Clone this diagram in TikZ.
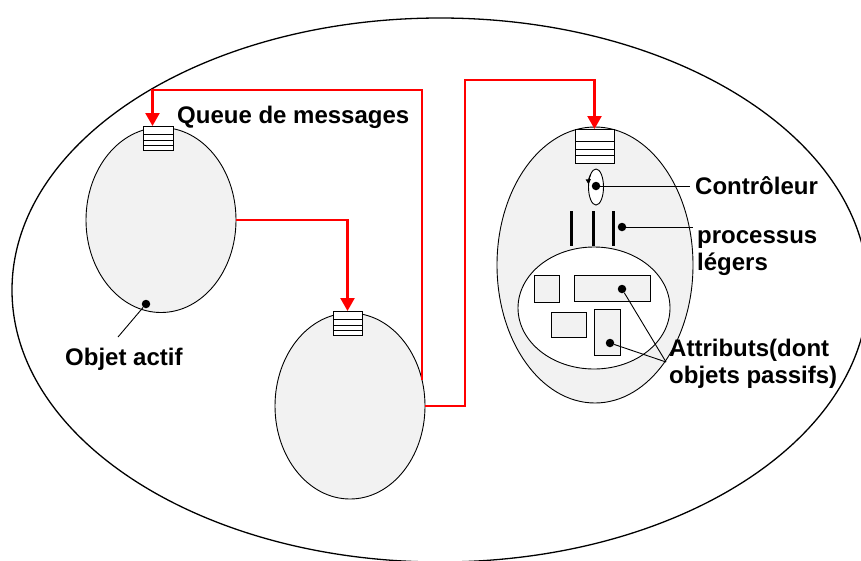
\documentclass[tikz,border=0pt]{standalone}
\usepackage{fontspec}
\setmainfont{Liberation Sans}
\usetikzlibrary{shapes.geometric,arrows.meta,calc}
\definecolor{lightfill}{HTML}{F2F2F2}
\definecolor{arrowred}{HTML}{FF0000}
\begin{document}
\begin{tikzpicture}[x=1pt,y=-1pt,
  blob/.style={ellipse, draw=black, line width=0.9pt, fill=lightfill, inner sep=0pt, outer sep=0pt},
  queuebox/.style={rectangle, draw=black, line width=0.9pt, fill=white, inner sep=0pt, outer sep=0pt},
  msg/.style={draw=arrowred, line width=2.3pt, -{Triangle[length=13pt,width=14pt]}},
  lbl/.style={font=\fontsize{24}{27}\selectfont\bfseries, inner sep=0pt, anchor=base west},
  pointer/.style={draw=black, line width=0.9pt},
  dotmark/.style={circle, fill=black, inner sep=0pt, minimum size=8.5pt},
  attr/.style={rectangle, draw=black, line width=0.9pt, fill=lightfill, inner sep=0pt, outer sep=0pt},
  thread/.style={draw=black, line width=3pt}
]
\useasboundingbox (0,0) rectangle (861,560);
\clip (0,0) rectangle (861,560);
\fill[white] (0,0) rectangle (861,560);
% world
\node[ellipse, draw=black, line width=1.3pt, fill=white, minimum width=856pt, minimum height=544pt, inner sep=0pt, outer sep=0pt] (world) at (440,290) {};
% object A
\node[blob, minimum width=150pt, minimum height=185pt] (A) at (161,220) {};
\node[queuebox, minimum width=30pt, minimum height=24pt] (QA) at (158,138) {};
% object B
\node[blob, minimum width=150pt, minimum height=186pt] (B) at (350,406) {};
\node[queuebox, minimum width=29pt, minimum height=24pt] (QB) at (347.5,323) {};
% object C
\node[blob, minimum width=196pt, minimum height=276pt] (C) at (595,265) {};
\node[queuebox, minimum width=39pt, minimum height=34pt] (QC) at (594.5,146) {};
\foreach \q in {QA,QB,QC}{
  \foreach \f in {0.36,0.59,0.79}{
    \draw[line width=0.9pt] ($(\q.north west)!\f!(\q.south west)$) -- ($(\q.north east)!\f!(\q.south east)$);
  }
}
% controller
\node[ellipse, draw=black, line width=0.9pt, fill=white, minimum width=15pt, minimum height=36pt, inner sep=0pt, outer sep=0pt] (ctl) at (596,187) {};
\draw[line width=0.9pt, -{Triangle[length=5pt,width=5pt]}] (ctl.115) to[bend right=15] (ctl.160);
\node[dotmark] (ctldot) at (596,186) {};
\coordinate (ctlend) at (690,186);
\draw[pointer] (ctldot) -- (ctlend);
% threads
\coordinate (t1a) at (571,211); \coordinate (t1b) at (571,246);
\coordinate (t2a) at (593,211); \coordinate (t2b) at (593,246);
\coordinate (t3a) at (613,211); \coordinate (t3b) at (613,246);
\draw[thread] (t1a) -- (t1b);
\draw[thread] (t2a) -- (t2b);
\draw[thread] (t3a) -- (t3b);
\node[dotmark] (thrdot) at (622,227) {};
\coordinate (thrend) at (693,227);
\draw[pointer] (thrdot) -- (thrend);
% attributes
\node[ellipse, draw=black, line width=0.9pt, fill=white, minimum width=152pt, minimum height=122pt, inner sep=0pt, outer sep=0pt] (attrs) at (594,308) {};
\node[attr, minimum width=25pt, minimum height=27pt] (r1) at (546.5,288.5) {};
\node[attr, minimum width=76pt, minimum height=26pt] (r2) at (612,288) {};
\node[attr, minimum width=35pt, minimum height=25pt] (r3) at (568.5,324.5) {};
\node[attr, minimum width=26pt, minimum height=46pt] (r4) at (607,332) {};
\node[dotmark] (r2dot) at (622,289) {};
\node[dotmark] (r4dot) at (610,343) {};
\coordinate (attend) at (666,362);
\draw[pointer] (r2dot) -- (attend);
\draw[pointer] (r4dot) -- (attend);
% active object pointer
\node[dotmark] (actdot) at (146,304) {};
\coordinate (actend) at (118,337);
\draw[pointer] (actdot) -- (actend);
% labels
\node[lbl] (qlbl) at (177,123) {Queue de messages};
\node[lbl] (actlbl) at (65,365) {Objet actif};
\node[lbl] (ctllbl) at (695,194) {Contrôleur};
\node[lbl] (proc1) at (697,243) {processus};
\node[lbl] (proc2) at (697,270) {légers};
\node[lbl] (att1) at (669,356) {Attributs(dont};
\node[lbl] (att2) at (669,383) {objets passifs)};
% messages
\coordinate (topA) at (423,90);
\coordinate (topC) at (465,80);
\draw[msg] (A.east) -| (QB.north);
\draw[msg] (B.20) -- (B.20 |- topA) -| ([xshift=-5.5pt]QA.north);
\draw[msg] (B.east) -| (topC) -| (QC.north);
\end{tikzpicture}
\end{document}
